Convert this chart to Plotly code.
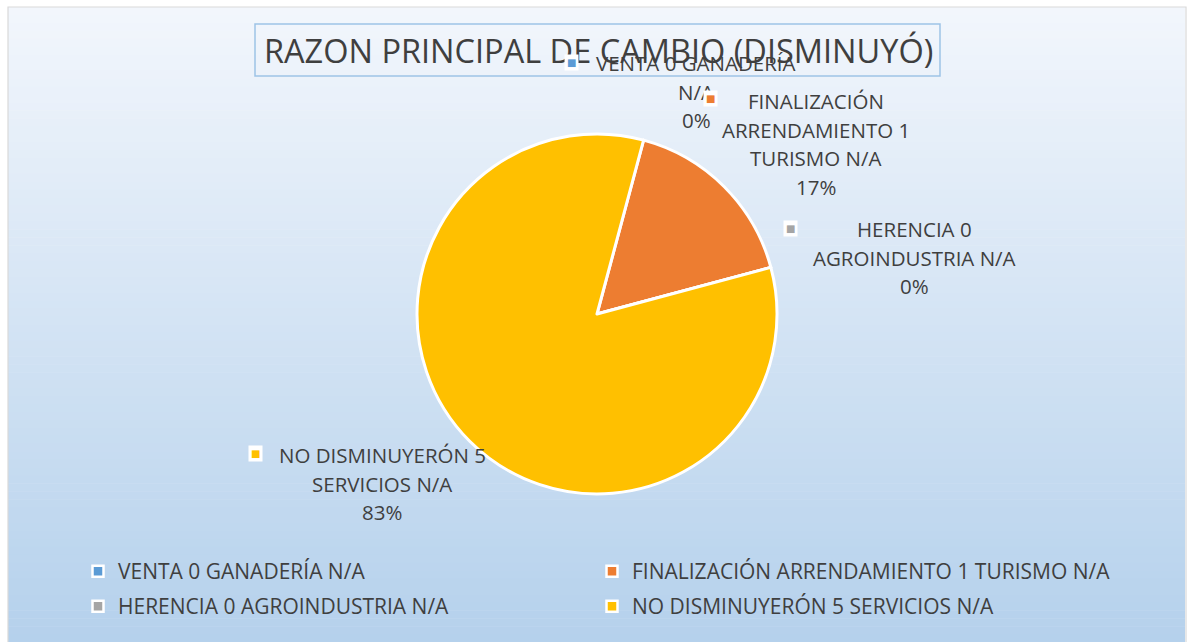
import plotly.graph_objects as go

# ---------------- data ----------------
categories = [
    "VENTA 0 GANADERÍA N/A",
    "FINALIZACIÓN ARRENDAMIENTO 1 TURISMO N/A",
    "HERENCIA 0 AGROINDUSTRIA N/A",
    "NO DISMINUYERÓN 5 SERVICIOS N/A",
]
values = [0, 1, 0, 5]
colors = ["#5B9BD5", "#ED7D31", "#A5A5A5", "#FFC000"]
label_lines = [
    ["VENTA 0 GANADERÍA", "N/A"],
    ["FINALIZACIÓN", "ARRENDAMIENTO 1", "TURISMO N/A"],
    ["HERENCIA 0", "AGROINDUSTRIA N/A"],
    ["NO DISMINUYERÓN 5", "SERVICIOS N/A"],
]
title_text = "RAZON PRINCIPAL DE CAMBIO (DISMINUYÓ)"

# ---------------- layout helpers ----------------
W, H = 1188, 642
FONT = "Open Sans"
TXT = "#3F3F3F"


def px(x):
    return x / W


def py(y):
    return 1 - y / H


total = sum(values)
pcts = [f"{round(v / total * 100)}%" for v in values]

# label placement (centre x, first line y, marker x, marker y) in pixels
label_pos = [
    (696, 63, 571, 62),
    (816, 101, 710, 99),
    (914, 229, 790, 228),
    (382, 455, 255, 453),
]
LINE = 28.7

fig = go.Figure()

cx, cy, r = 597, 314, 180
fig.add_trace(
    go.Pie(
        labels=categories,
        values=values,
        sort=False,
        direction="clockwise",
        rotation=15,
        marker=dict(colors=colors, line=dict(color="white", width=3)),
        textinfo="none",
        hoverinfo="skip",
        domain=dict(x=[px(cx - r), px(cx + r)], y=[py(cy + r), py(cy - r)]),
        showlegend=False,
    )
)

# legend entries: 2 columns x 2 rows, like the original
legend_ids = ["legend", "legend2", "legend3", "legend4"]
legend_xy = [(78, 551), (592, 551), (78, 586), (592, 586)]
for i, cat in enumerate(categories):
    fig.add_trace(
        go.Scatter(
            x=[None], y=[None], mode="markers", name=cat,
            marker=dict(symbol="square", size=11, color=colors[i],
                        line=dict(color="white", width=2.5)),
            legend=legend_ids[i], hoverinfo="skip", showlegend=True,
        )
    )

shapes = []
# gradient background (style only)
x0, x1, ytop = 8, 1185, 7
nb = 80
c_top = (242, 246, 252)
c_bot = (181, 209, 236)
for i in range(nb):
    t = i / (nb - 1)
    col = tuple(round(c_top[k] + (c_bot[k] - c_top[k]) * t) for k in range(3))
    ya = ytop + (H - ytop) * i / nb
    yb = ytop + (H - ytop) * (i + 1) / nb + 0.6
    shapes.append(dict(type="rect", xref="paper", yref="paper", layer="below",
                       x0=px(x0), x1=px(x1), y0=py(yb), y1=py(ya),
                       fillcolor="rgb(%d,%d,%d)" % col, line=dict(width=0)))
# chart border
shapes.append(dict(type="rect", xref="paper", yref="paper", layer="below",
                   x0=px(x0), x1=px(x1 + 1), y0=py(H + 2), y1=py(ytop),
                   line=dict(color="#D9D9D9", width=1.2)))
# title box
shapes.append(dict(type="rect", xref="paper", yref="paper", layer="below",
                   x0=px(255), x1=px(940), y0=py(76), y1=py(24),
                   line=dict(color="#9DC3E6", width=1.5)))

annotations = [
    dict(text=title_text, x=px(598), y=py(51), xref="paper", yref="paper",
         showarrow=False, xanchor="center", yanchor="middle",
         font=dict(family=FONT, size=32.5, color=TXT))
]

for i, (lx, ly, mx, my) in enumerate(label_pos):
    lines = label_lines[i] + [pcts[i]]
    for j, line in enumerate(lines):
        annotations.append(dict(text=line, x=px(lx), y=py(ly + j * LINE),
                                xref="paper", yref="paper", showarrow=False,
                                xanchor="center", yanchor="middle",
                                font=dict(family=FONT, size=20.5, color=TXT)))
    annotations.append(dict(text="■", x=px(mx), y=py(my), xref="paper", yref="paper",
                            showarrow=False, xanchor="center", yanchor="middle",
                            bgcolor="white", borderpad=2,
                            font=dict(family="DejaVu Sans", size=10, color=colors[i])))

legends = {}
for lid, (lxp, lyp) in zip(legend_ids, legend_xy):
    legends[lid] = dict(
        orientation="h",
        x=px(lxp),
        y=py(lyp),
        xanchor="left",
        yanchor="top",
        font=dict(family=FONT, size=21, color=TXT),
        bgcolor="rgba(0,0,0,0)",
    )

fig.update_layout(
    width=W,
    height=H,
    margin=dict(l=0, r=0, t=0, b=0),
    paper_bgcolor="white",
    plot_bgcolor="rgba(0,0,0,0)",
    xaxis=dict(visible=False),
    yaxis=dict(visible=False),
    shapes=shapes,
    annotations=annotations,
    **legends,
)

fig.write_html("out.html", config={"displayModeBar": False},
               post_script="document.body.style.margin='0';")
